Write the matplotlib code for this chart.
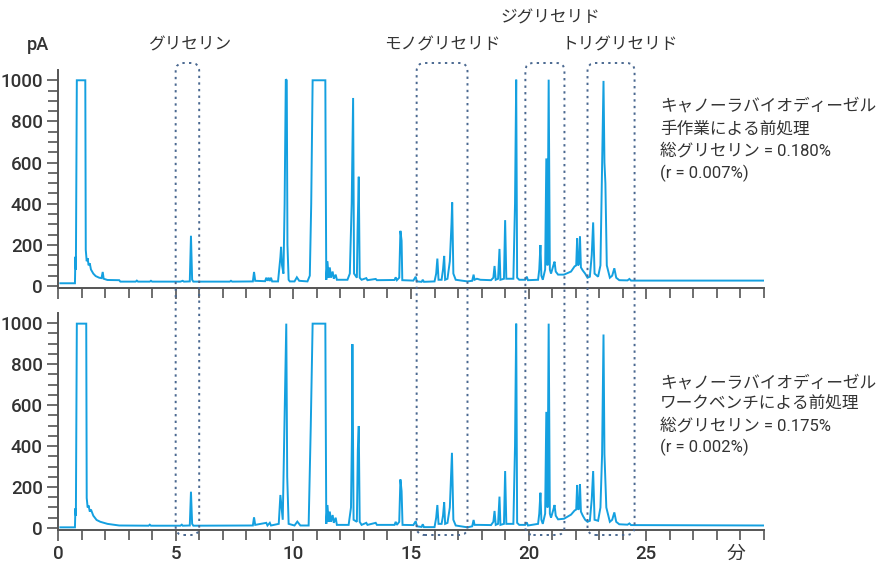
import matplotlib
matplotlib.use("Agg")
import matplotlib.pyplot as plt
from matplotlib.patches import FancyBboxPatch
from matplotlib.transforms import IdentityTransform

plt.rcParams['font.family'] = ['Roboto', 'Noto Sans CJK JP', 'DejaVu Sans']

# chromatogram vertices (time in min, signal in pA)
t_manual = [0.1, 0.72, 0.74, 0.76, 0.8, 1.16, 1.18, 1.22, 1.26, 1.3, 1.35, 1.4, 1.5, 1.6,
            1.75, 1.85, 1.9, 1.94, 2.1, 2.6, 2.65, 3.3, 3.35, 3.4, 3.9, 3.95, 4.0, 5.2, 5.3,
            5.35, 5.6, 5.65, 5.7, 5.75, 7.3, 7.35, 7.4, 8.28, 8.33, 8.38, 8.8, 8.85, 8.9,
            8.95, 9.0, 9.05, 9.1, 9.35, 9.4, 9.45, 9.48, 9.52, 9.58, 9.63, 9.68, 9.72,
            9.75, 9.8, 9.85, 10.05, 10.15, 10.25, 10.6, 10.7, 10.76, 10.82, 11.36, 11.37,
            11.4, 11.45, 11.5, 11.55, 11.6, 11.67, 11.72, 11.8, 11.85, 12.3, 12.4, 12.48,
            12.54, 12.58, 12.7, 12.73, 12.78, 12.82, 12.9, 13.1, 13.15, 13.5, 13.55, 14.3,
            14.35, 14.4, 14.5, 14.55, 14.6, 14.63, 15.1, 15.2, 15.25, 15.45, 15.5, 15.55,
            16.0, 16.07, 16.12, 16.17, 16.3, 16.36, 16.41, 16.45, 16.55, 16.65, 16.72,
            16.75, 16.8, 16.9, 17.4, 17.6, 17.66, 17.7, 17.8, 17.95, 18.4, 18.5, 18.55,
            18.6, 18.7, 18.76, 18.8, 18.95, 19.0, 19.05, 19.35, 19.42, 19.47, 19.51, 19.6,
            19.85, 19.92, 19.97, 20.4, 20.45, 20.5, 20.54, 20.6, 20.7, 20.75, 20.8, 20.85,
            20.9, 20.95, 21.05, 21.1, 21.15, 21.25, 21.5, 21.8, 21.95, 22.02, 22.06, 22.1,
            22.15, 22.18, 22.22, 22.3, 22.4, 22.5, 22.6, 22.68, 22.74, 22.8, 22.95, 23.05,
            23.12, 23.18, 23.22, 23.26, 23.32, 23.45, 23.55, 23.64, 23.72, 23.85, 24.2,
            24.28, 24.35, 30.0]
pa_manual = [13, 13, 142, 80, 1000, 1000, 175, 120, 135, 100, 110, 80, 60, 48,
             40, 38, 68, 35, 29, 28, 21, 21, 26, 21, 21, 25, 21, 21, 25,
             21, 22, 244, 30, 21, 21, 25, 21, 22, 68, 25, 23, 40, 25,
             40, 24, 40, 22, 22, 80, 140, 190, 100, 60, 400, 1005, 1000,
             200, 30, 22, 22, 42, 25, 22, 50, 400, 1000, 1000, 700,
             30, 120, 40, 90, 40, 70, 35, 55, 30, 30, 60, 400,
             914, 60, 40, 270, 531, 40, 30, 38, 28, 34, 28, 29,
             42, 28, 40, 268, 220, 28, 26, 45, 22, 20, 30, 20,
             22, 60, 133, 30, 30, 80, 146, 30, 35, 120, 300,
             406, 60, 30, 22, 25, 55, 30, 35, 30, 28, 40, 97,
             30, 35, 180, 30, 35, 320, 35, 35, 400, 1003, 40, 30,
             30, 45, 28, 30, 80, 199, 50, 30, 80, 620, 100, 1003,
             80, 60, 100, 118, 70, 55, 55, 70, 95, 100, 231, 100,
             110, 240, 90, 75, 60, 40, 45, 150, 309, 60, 45, 100,
             600, 997, 600, 500, 100, 40, 50, 86, 40, 28, 27,
             34, 26, 26]

t_bench = [0.1, 0.72, 0.74, 0.76, 0.8, 1.2, 1.22, 1.26, 1.3, 1.35, 1.4, 1.5, 1.64, 1.8,
           2.1, 2.6, 3.85, 3.9, 3.95, 5.2, 5.26, 5.3, 5.6, 5.65, 5.7, 5.75, 8.28, 8.33,
           8.38, 8.85, 8.9, 9.0, 9.05, 9.38, 9.45, 9.5, 9.55, 9.62, 9.7, 9.74, 9.8, 10.05,
           10.17, 10.3, 10.65, 10.74, 10.82, 11.36, 11.37, 11.4, 11.45, 11.5, 11.55, 11.6,
           11.67, 11.72, 11.8, 11.85, 12.35, 12.45, 12.49, 12.51, 12.56, 12.7, 12.74,
           12.78, 12.82, 12.9, 13.1, 13.15, 13.5, 13.55, 14.3, 14.35, 14.4, 14.5, 14.55,
           14.6, 14.64, 15.1, 15.2, 15.25, 15.45, 15.5, 15.55, 16.0, 16.07, 16.12, 16.17,
           16.3, 16.36, 16.41, 16.45, 16.55, 16.65, 16.7, 16.74, 16.8, 16.9, 17.4, 17.6,
           17.66, 17.7, 17.9, 18.4, 18.5, 18.55, 18.6, 18.7, 18.76, 18.8, 18.95, 19.0,
           19.05, 19.35, 19.42, 19.47, 19.51, 19.6, 19.85, 19.92, 19.97, 20.4, 20.45,
           20.5, 20.54, 20.6, 20.7, 20.75, 20.8, 20.85, 20.9, 20.95, 21.05, 21.1, 21.15,
           21.25, 21.5, 21.8, 21.95, 22.02, 22.06, 22.1, 22.15, 22.18, 22.22, 22.3, 22.4,
           22.5, 22.6, 22.68, 22.74, 22.8, 22.95, 23.05, 23.12, 23.18, 23.22, 23.3, 23.45,
           23.55, 23.64, 23.72, 23.85, 24.2, 24.28, 24.35, 30.0]
pa_bench = [3, 3, 96, 60, 998, 998, 146, 100, 110, 80, 90, 60, 39, 30,
            20, 12, 11, 16, 11, 11, 16, 11, 12, 177, 20, 11, 12, 52,
            15, 25, 12, 25, 12, 20, 161, 100, 40, 500, 998, 250, 20, 12,
            31, 12, 12, 494, 998, 998, 714, 20, 112, 30, 80, 30,
            63, 25, 50, 15, 15, 100, 450, 898, 40, 30, 380,
            498, 30, 15, 25, 15, 25, 15, 15, 30, 15, 30, 237,
            180, 15, 14, 33, 8, 5, 18, 4, 4, 50, 112, 20,
            20, 60, 125, 20, 25, 100, 250, 367, 40, 12, 3, 8,
            39, 15, 15, 14, 30, 83, 15, 20, 153, 15, 20, 278,
            20, 20, 400, 998, 25, 15, 15, 27, 12, 20, 70,
            172, 40, 20, 70, 567, 100, 998, 70, 50, 90, 112, 60,
            42, 45, 65, 85, 90, 210, 90, 95, 213, 80, 60, 40,
            30, 35, 140, 278, 40, 35, 100, 360, 945, 360, 100, 30,
            40, 76, 30, 18, 16, 22, 14, 12]

# retention windows for each compound class (min)
windows = [(5.0, 6.0), (15.24, 17.4), (19.86, 21.52), (22.5, 24.5)]
window_labels = ['グリセリン', 'モノグリセリド', 'ジグリセリド', 'トリグリセリド']
label_x = [190, 442, 550, 620]
label_y = [45, 45, 18, 45]

manual_notes = ['キャノーラバイオディーゼル', '手作業による前処理', '総グリセリン = 0.180%', '(r = 0.007%)']
bench_notes = ['キャノーラバイオディーゼル', 'ワークベンチによる前処理', '総グリセリン = 0.175%', '(r = 0.002%)']

line_color = '#14a0e0'
text_color = '#333333'
axis_color = '#555555'
box_color = '#4a6890'

W, H = 878, 565
fig = plt.figure(figsize=(W / 100, H / 100), dpi=100)
ax1 = fig.add_axes([58 / W, 1 - 288 / H, 706 / W, 218 / H])
ax2 = fig.add_axes([58 / W, 1 - 530 / H, 706 / W, 217 / H])

for ax, t, pa in [(ax1, t_manual, pa_manual), (ax2, t_bench, pa_bench)]:
    ax.plot(t, pa, color=line_color, lw=1.4, solid_joinstyle='miter')
    ax.set_xlim(0, 30)
    ax.set_ylim(-10, 1050)
    ax.set_xticks(range(0, 26, 5))
    ax.set_xticks(range(0, 31), minor=True)
    ax.set_yticks(range(0, 1001, 200))
    ax.set_yticks(range(0, 1001, 50), minor=True)
    for s in ['top', 'right']:
        ax.spines[s].set_visible(False)
    for s in ['left', 'bottom']:
        ax.spines[s].set_color(axis_color)
        ax.spines[s].set_linewidth(1.4)
    ax.tick_params(which='both', direction='out', color=axis_color, width=1.2,
                   labelsize=13.5, labelcolor=text_color)
    ax.tick_params(which='major', length=8, pad=3)
    ax.tick_params(which='minor', length=7)
    for lbl in ax.get_xticklabels() + ax.get_yticklabels():
        lbl.set_fontweight('medium')
    ax.patch.set_alpha(0)

ax1.tick_params(axis='x', labelbottom=False)
ax2.text(28.8, -0.11, '分', transform=ax2.get_xaxis_transform(), ha='center', va='center',
         fontsize=13.5, color=text_color)

fig.text(38 / W, 1 - 45 / H, 'pA', ha='center', va='center', fontsize=13, color=text_color,
         fontweight='medium')

# dotted windows running through both panels
fig.canvas.draw()
for (x0, x1) in windows:
    px0 = ax2.transData.transform((x0, 0))[0]
    px1 = ax2.transData.transform((x1, 0))[0]
    box = FancyBboxPatch((px0, 30), px1 - px0, 472,
                         boxstyle='round,pad=0,rounding_size=8',
                         transform=IdentityTransform(), fill=False,
                         edgecolor=box_color, lw=1.4, linestyle=(0, (1.2, 2.2)))
    fig.add_artist(box)

for text, x, y in zip(window_labels, label_x, label_y):
    fig.text(x / W, 1 - y / H, text, ha='center', va='center', fontsize=12, color=text_color)

for i, line in enumerate(manual_notes):
    fig.text(660 / W, 1 - (106 + 22.5 * i) / H, line, ha='left', va='center',
             fontsize=12, color=text_color)
for i, line in enumerate(bench_notes):
    fig.text(660 / W, 1 - (383 + 21.5 * i) / H, line, ha='left', va='center',
             fontsize=12, color=text_color)

fig.savefig('out.png', dpi=100)
